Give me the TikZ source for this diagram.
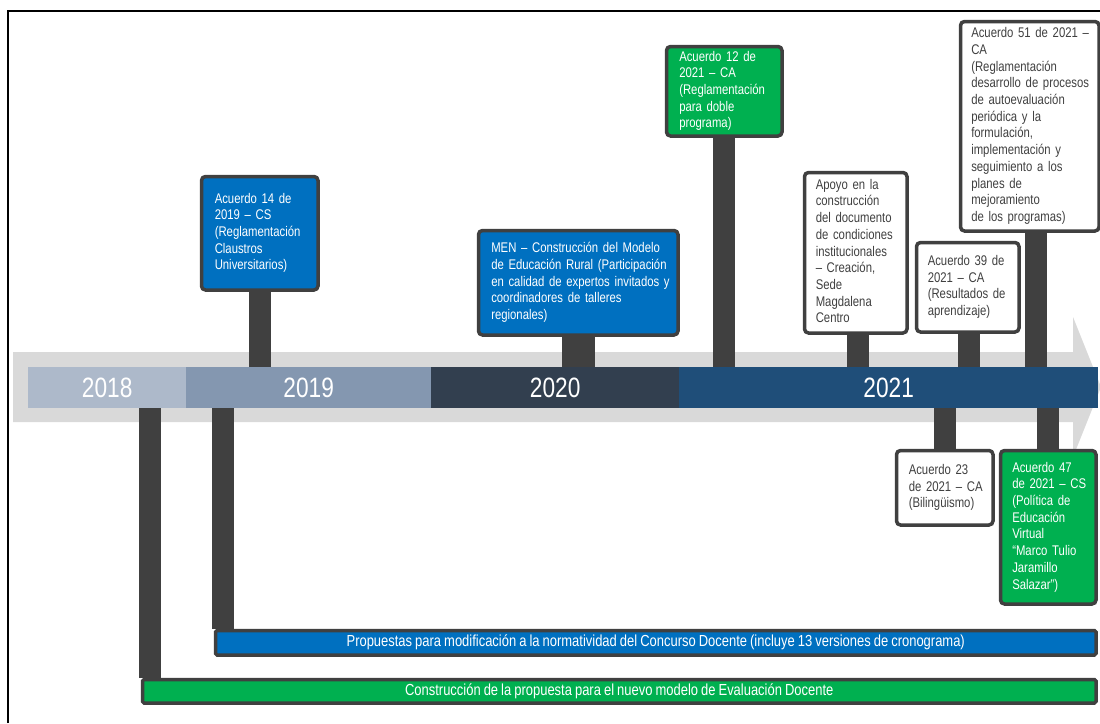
\documentclass[tikz,border=0pt]{standalone}
\usepackage{fontspec}
\setmainfont{Liberation Sans}
\newfontfamily\nar[FakeStretch=0.81,WordSpace=0.85]{Liberation Sans}
\definecolor{dk}{HTML}{404040}
\definecolor{bl}{HTML}{0070C0}
\definecolor{gr}{HTML}{00B050}
\definecolor{agrey}{HTML}{D9D9D9}
\definecolor{ya}{HTML}{ADB9CA}
\definecolor{yb}{HTML}{8497B0}
\definecolor{yc}{HTML}{323F4F}
\definecolor{yd}{HTML}{1F4E79}
\newcommand{\boxlines}[1]{\begin{tabular}{@{}l@{}}#1\end{tabular}}
\pgfdeclarelayer{back}
\pgfdeclarelayer{stems}
\pgfsetlayers{back,stems,main}
\begin{document}
\begin{tikzpicture}[x=1pt,y=-1pt,
  box/.style={draw=dk, line width=3.5pt, rounded corners=4pt, anchor=north west,
    align=left, inner ysep=0pt, font=\nar\fontsize{14}{16.7}\selectfont},
  bluebox/.style={box, fill=bl, text=white},
  greenbox/.style={box, fill=gr, text=white},
  whitebox/.style={box, fill=white, text=dk},
  yr/.style={anchor=north west, minimum height=41pt, inner sep=0pt, text=white,
    font=\nar\fontsize{28}{30}\selectfont},
  bar/.style={draw=dk, line width=3.5pt, rounded corners=1.5pt, anchor=north west,
    inner sep=0pt, text=white, font=\nar\fontsize{16}{18}\selectfont},
  stem/.style={draw=dk, line width=22pt},
  frame/.style={draw=black, line width=1.2pt}
]
\useasboundingbox (0,0) rectangle (1100,723);

% frame
\draw[frame] (8,723) -- (8,11) -- (1100,11);

% grey arrow
\begin{pgfonlayer}{back}
\fill[agrey] (13,352) -- (1073,352) -- (1073,317) -- (1101,387) -- (1073,457) -- (1073,422) -- (13,422) -- cycle;
\end{pgfonlayer}

% year bar
\node[yr, fill=ya, minimum width=158pt] (y2018) at (28,367) {2018};
\node[yr, fill=yb, minimum width=245pt] (y2019) at (186,367) {2019};
\node[yr, fill=yc, minimum width=248pt] (y2020) at (431,367) {2020};
\node[yr, fill=yd, minimum width=419pt] (y2021) at (679,367) {2021};

% boxes above
\node[bluebox, text width=90pt, inner xsep=13.25pt, minimum height=113.5pt] (b14) at (199.75,174.75)
  {\boxlines{Acuerdo 14 de\\2019 – CS\\(Reglamentación\\Claustros\\Universitarios)}};
\node[bluebox, text width=174pt, inner xsep=12.75pt, minimum height=104.5pt] (bmen) at (476.75,228.75)
  {\boxlines{MEN – Construcción del Modelo\\de Educación Rural (Participación\\en calidad de expertos invitados y\\coordinadores de talleres\\regionales)}};
\node[greenbox, text width=90pt, inner xsep=12.75pt, minimum height=89.5pt] (b12) at (664.75,44.75)
  {\boxlines{Acuerdo 12 de\\2021 – CA\\(Reglamentación\\para doble\\programa)}};
\node[whitebox, text width=80pt, inner xsep=11.25pt, minimum height=160.5pt] (bapoyo) at (802.75,170.75)
  {\boxlines{Apoyo en la\\construcción\\del documento\\de condiciones\\institucionales\\– Creación,\\Sede\\Magdalena\\Centro}};
\node[whitebox, text width=80pt, inner xsep=11.25pt, minimum height=89.5pt] (b39) at (914.75,240.75)
  {\boxlines{Acuerdo 39 de\\2021 – CA\\(Resultados de\\aprendizaje)}};
\node[whitebox, text width=117pt, inner xsep=10.75pt, minimum height=209.5pt] (b51) at (958.75,19.75)
  {\boxlines{Acuerdo 51 de 2021 –\\CA\\(Reglamentación\\desarrollo de procesos\\de autoevaluación\\periódica y la\\formulación,\\implementación y\\seguimiento a los\\planes de\\mejoramiento\\de los programas)}};

% boxes below
\node[whitebox, text width=72pt, inner xsep=12.25pt, minimum height=74.5pt] (b23) at (894.75,448.75)
  {\boxlines{Acuerdo 23\\de 2021 – CA\\(Bilingüismo)}};
\node[greenbox, text width=72pt, inner xsep=11.75pt, minimum height=153.5pt] (b47) at (998.75,448.75)
  {\boxlines{Acuerdo 47\\de 2021 – CS\\(Política de\\Educación\\Virtual\\“Marco Tulio\\Jaramillo\\Salazar”)}};

% long bars
\node[bar, fill=bl, minimum width=880.5pt, minimum height=24.5pt] (bbar) at (213.75,628.75)
  {Propuestas para modificación a la normatividad del Concurso Docente (incluye 13 versiones de cronograma)};
\node[bar, fill=gr, minimum width=953.5pt, minimum height=23.5pt] (gbar) at (140.75,677.75)
  {Construcción de la propuesta para el nuevo modelo de Evaluación Docente};

% stems
\begin{pgfonlayer}{stems}
\draw[stem] (b14.south) -- (b14.south |- y2019.north);
\draw[stem, line width=33pt] (bmen.south) -- (bmen.south |- y2020.north);
\draw[stem] (b12.south) -- (b12.south |- y2021.north);
\draw[stem] ([xshift=2pt]bapoyo.south) -- ([xshift=2pt]bapoyo.south |- y2021.north);
\draw[stem] ([xshift=1.5pt]b39.south) -- ([xshift=1.5pt]b39.south |- y2021.north);
\draw[stem] ([xshift=6.5pt]b51.south) -- ([xshift=6.5pt]b51.south |- y2021.north);
\draw[stem] (b23.north) -- (b23.north |- y2021.south);
\draw[stem] (b47.north) -- (b47.north |- y2021.south);
\draw[stem] ([xshift=9.5pt]gbar.north west) -- ([xshift=9.5pt]gbar.north west |- y2018.south);
\draw[stem] ([xshift=9.25pt]bbar.north west) -- ([xshift=9.25pt]bbar.north west |- y2019.south);
\end{pgfonlayer}
\end{tikzpicture}
\end{document}
